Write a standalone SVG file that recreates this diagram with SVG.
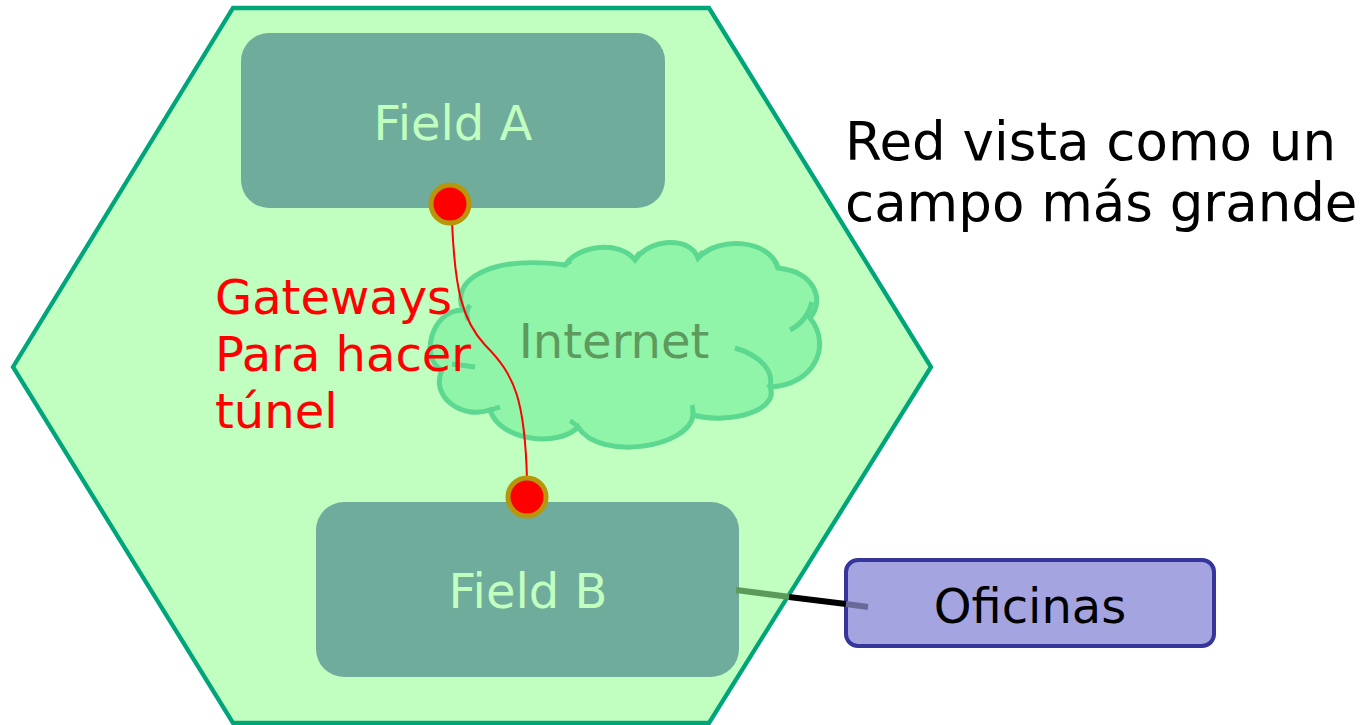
<svg xmlns="http://www.w3.org/2000/svg" width="1368" height="725" viewBox="0 0 1368 725">
<style>
text{font-family:"DejaVu Sans","Liberation Sans",sans-serif}
.field{fill:#70ac9b}
.ftxt{fill:#c0ffc0;font-size:48px;text-anchor:middle}
.gw{fill:#ff0000;stroke:#b8960a;stroke-width:5}
.cl{fill:none;stroke:#5cd890;stroke-width:5;stroke-linecap:butt}
.red{fill:#ff0000;font-size:48px}
</style>
<rect width="1368" height="725" fill="#ffffff"/>
<g id="network">
<polygon points="233,8 709,8 931,367 709,723 233,723 13,367" fill="#c0ffc0" stroke="#00a67a" stroke-width="4.3"/>
</g>
<g id="internet">
<path d="M463,310 C450,280 490,255 565,265 C578,245 620,240 635,260 C650,238 690,236 698,258 C720,235 770,240 778,268 C815,272 825,300 810,318 C832,345 815,385 770,387 C780,410 730,425 693,415 C690,447 600,462 578,427 C560,447 500,442 490,410 C460,420 430,395 442,370 C420,360 430,310 463,310 Z" fill="#90f5a8" stroke="#5cd890" stroke-width="5"/>
<path class="cl" d="M735,348 C762,356 774,372 770,387"/>
<path class="cl" d="M790,330 C800,325 808,316 812,302"/>
<path class="cl" d="M475,367 C468,366 460,365 452,364"/>
<path class="cl" d="M468,320 C466,314 466,310 470,305"/>
<path class="cl" d="M565,265 C568,262 569,262 571,261"/>
<path class="cl" d="M635,260 C637,256 638,254 640,253"/>
<path class="cl" d="M698,258 C700,255 701,253 703,252"/>
<path class="cl" d="M778,268 C777,264 776,262 774,260"/>
<path class="cl" d="M693,415 C693,410 693,408 692,405"/>
<path class="cl" d="M578,427 C575,424 573,422 570,421"/>
<path class="cl" d="M490,410 C494,409 497,408 500,407"/>
<text x="614" y="358" font-size="48" fill="#5e9a5e" text-anchor="middle">Internet</text>
</g>
<g id="field-a">
<rect class="field" x="241" y="33" width="424" height="175" rx="28"/>
<text class="ftxt" x="453" y="140">Field A</text>
</g>
<g id="field-b">
<rect class="field" x="316" y="502" width="423" height="175" rx="28"/>
<text class="ftxt" x="528" y="608">Field B</text>
</g>
<g id="label-gateways">
<text class="red" x="215" y="314">Gateways</text>
<text class="red" x="215" y="371">Para hacer</text>
<text class="red" x="215" y="428">túnel</text>
</g>
<g id="label-red">
<text x="845" y="160" font-size="53" fill="#000000">Red vista como un</text>
<text x="845" y="221" font-size="53" fill="#000000">campo más grande</text>
</g>
<g id="oficinas">
<rect x="846" y="560" width="368" height="86" rx="12" fill="#a4a4e0" stroke="#35359c" stroke-width="4"/>
<text x="1030" y="623" font-size="48" fill="#000000" text-anchor="middle">Oficinas</text>
</g>
<g id="connectors">
<path d="M452,222 C455,290 462,320 485,345 C515,375 525,400 527,480" fill="none" stroke="#ff0000" stroke-width="2"/>
<line x1="736" y1="590" x2="790" y2="597" stroke="#5a9a5a" stroke-width="6"/>
<line x1="789" y1="597" x2="846" y2="604" stroke="#000000" stroke-width="6"/>
<line x1="846" y1="604" x2="868" y2="607" stroke="#6a6a9a" stroke-width="6"/>
</g>
<g id="gateway-a">
<circle class="gw" cx="450" cy="204" r="19"/>
</g>
<g id="gateway-b">
<circle class="gw" cx="527" cy="497" r="19"/>
</g>
</svg>
